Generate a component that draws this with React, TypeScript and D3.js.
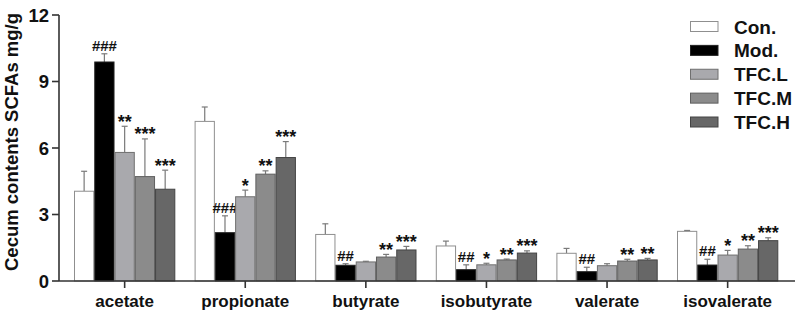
import React from "react";
import * as d3 from "d3";

const categories = ["acetate", "propionate", "butyrate", "isobutyrate", "valerate", "isovalerate"];
const seriesNames = ["Con.", "Mod.", "TFC.L", "TFC.M", "TFC.H"];

const conMeans = [4.05, 7.2, 2.1, 1.58, 1.25, 2.24];
const conErr = [0.9, 0.65, 0.48, 0.22, 0.22, 0.04];
const modMeans = [9.88, 2.18, 0.71, 0.51, 0.42, 0.72];
const modErr = [0.37, 0.76, 0.07, 0.22, 0.2, 0.26];
const lowMeans = [5.8, 3.8, 0.86, 0.73, 0.69, 1.17];
const lowErr = [1.18, 0.3, 0.03, 0.07, 0.09, 0.21];
const midMeans = [4.71, 4.82, 1.08, 0.95, 0.9, 1.44];
const midErr = [1.7, 0.15, 0.12, 0.04, 0.08, 0.15];
const highMeans = [4.14, 5.57, 1.4, 1.26, 0.95, 1.82];
const highErr = [0.86, 0.72, 0.16, 0.1, 0.07, 0.13];

const conSig = ["", "", "", "", "", ""];
const modSig = ["###", "###", "##", "##", "##", "##"];
const lowSig = ["**", "*", "", "*", "", "*"];
const midSig = ["***", "**", "**", "**", "**", "**"];
const highSig = ["***", "***", "***", "***", "**", "***"];

const yTicks = [0, 3, 6, 9, 12];
const yTitle = "Cecum contents SCFAs mg/g";

const fills = ["#ffffff", "#000000", "#a9a9ad", "#8b8b8b", "#676767"];
const strokes = ["#8f8f8f", "#222222", "#6f6f6f", "#5f5f5f", "#444444"];

const series = [
  { name: seriesNames[0], means: conMeans, err: conErr, sig: conSig },
  { name: seriesNames[1], means: modMeans, err: modErr, sig: modSig },
  { name: seriesNames[2], means: lowMeans, err: lowErr, sig: lowSig },
  { name: seriesNames[3], means: midMeans, err: midErr, sig: midSig },
  { name: seriesNames[4], means: highMeans, err: highErr, sig: highSig },
];

const W = 796;
const H = 311;
const FONT = "'Liberation Sans', Arial, Helvetica, sans-serif";

export default function App() {
  const y = d3.scaleLinear().domain([0, 12]).range([281, 15]);
  const x0 = d3.scaleBand<string>().domain(categories).range([74, 778.3]).paddingInner(0.16).paddingOuter(0);
  const x1 = d3.scaleBand<string>().domain(seriesNames).range([0, x0.bandwidth()]).padding(0);
  const axisX = 59;
  const axisColor = "#333";

  const legendY = d3.scalePoint<string>().domain(seriesNames).range([26.5, 122]);

  return (
    <svg width={W} height={H} style={{ position: "fixed", left: 0, top: 0, background: "#fff" }} fontFamily={FONT}>
      <rect x={0} y={0} width={W} height={H} fill="#fff" />
      {/* bars */}
      {categories.map((c, ci) => (
        <g key={c} transform={`translate(${x0(c)},0)`}>
          {series.map((s, si) => {
            const bx = x1(s.name)!;
            const bw = x1.bandwidth();
            const top = y(s.means[ci]);
            const errTop = y(s.means[ci] + s.err[ci]);
            const cx = bx + bw / 2;
            const sig = s.sig[ci];
            const isHash = sig.includes("#");
            return (
              <g key={s.name}>
                <line x1={cx} x2={cx} y1={top} y2={errTop} stroke="#7a7a7a" strokeWidth={1.2} />
                <line x1={cx - 3} x2={cx + 3} y1={errTop} y2={errTop} stroke="#7a7a7a" strokeWidth={1.2} />
                <rect
                  x={bx + 0.5}
                  y={top}
                  width={bw - 1}
                  height={y(0) - top}
                  fill={fills[si]}
                  stroke={strokes[si]}
                  strokeWidth={1}
                />
                {sig && (
                  <text
                    x={cx}
                    y={isHash ? errTop - 3 : errTop + 1.5}
                    textAnchor="middle"
                    fontWeight="bold"
                    fontSize={isHash ? 15 : 18}
                    fill="#111"
                  >
                    {sig}
                  </text>
                )}
              </g>
            );
          })}
        </g>
      ))}
      {/* y axis */}
      <line x1={axisX} x2={axisX} y1={y(12)} y2={y(0)} stroke={axisColor} strokeWidth={1.6} />
      {yTicks.map((t) => (
        <g key={t}>
          <line x1={axisX - 7} x2={axisX} y1={y(t)} y2={y(t)} stroke={axisColor} strokeWidth={1.6} />
          <text x={49} y={y(t) + 6.6} textAnchor="end" fontWeight="bold" fontSize={18.5} fill="#111">
            {t}
          </text>
        </g>
      ))}
      {/* x axis */}
      <line x1={axisX} x2={795} y1={y(0)} y2={y(0)} stroke={axisColor} strokeWidth={1.6} />
      {categories.map((c) => {
        const cx = x0(c)! + x0.bandwidth() / 2;
        return (
          <g key={c}>
            <line x1={cx} x2={cx} y1={y(0)} y2={y(0) + 7} stroke={axisColor} strokeWidth={1.6} />
            <text x={cx} y={306.5} textAnchor="middle" fontWeight="bold" fontSize={17} fill="#111">
              {c}
            </text>
          </g>
        );
      })}
      {/* y title */}
      <text
        transform={`translate(18,142) rotate(-90)`}
        textAnchor="middle"
        fontWeight="bold"
        fontSize={18.5}
        fill="#111"
      >
        {yTitle}
      </text>
      {/* legend */}
      {seriesNames.map((n, i) => {
        const cy = legendY(n)!;
        return (
          <g key={n}>
            <rect x={690.5} y={cy - 5} width={27.5} height={10} fill={fills[i]} stroke={strokes[i]} strokeWidth={1} />
            <text x={734} y={cy + 7} fontWeight="bold" fontSize={19} fill="#111">
              {n}
            </text>
          </g>
        );
      })}
    </svg>
  );
}
